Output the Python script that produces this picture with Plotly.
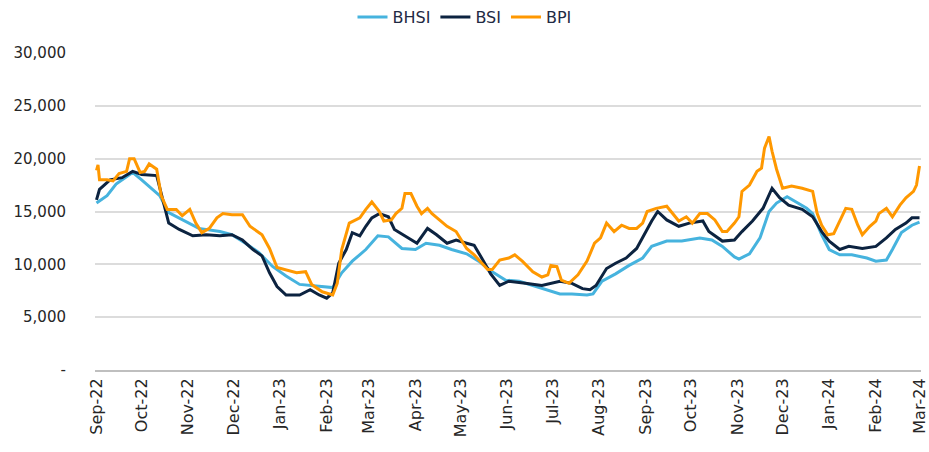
import plotly.graph_objects as go

# ---- data ----
bpi_dates = ["2022-09-01","2022-09-02","2022-09-03","2022-09-08","2022-09-12","2022-09-16","2022-09-21","2022-09-23","2022-09-26","2022-09-30",
             "2022-10-03","2022-10-06","2022-10-11","2022-10-14","2022-10-18","2022-10-24","2022-10-28","2022-11-02","2022-11-06","2022-11-10",
             "2022-11-15","2022-11-20","2022-11-24","2022-11-30","2022-12-07","2022-12-12","2022-12-20","2022-12-25","2022-12-30","2023-01-05",
             "2023-01-12","2023-01-18","2023-01-22","2023-01-29","2023-02-05","2023-02-08","2023-02-11","2023-02-16","2023-02-23","2023-02-27",
             "2023-03-03","2023-03-08","2023-03-11","2023-03-16","2023-03-19","2023-03-23","2023-03-25","2023-03-29","2023-04-02","2023-04-05",
             "2023-04-09","2023-04-12","2023-04-17","2023-04-22","2023-04-28","2023-05-02","2023-05-05","2023-05-10","2023-05-15","2023-05-19",
             "2023-05-22","2023-05-27","2023-06-02","2023-06-06","2023-06-11","2023-06-18","2023-06-24","2023-06-28","2023-06-30","2023-07-04",
             "2023-07-07","2023-07-12","2023-07-18","2023-07-24","2023-07-29","2023-08-02","2023-08-06","2023-08-11","2023-08-16","2023-08-21",
             "2023-08-26","2023-08-30","2023-09-02","2023-09-08","2023-09-15","2023-09-19","2023-09-23","2023-09-28","2023-10-02","2023-10-07",
             "2023-10-12","2023-10-17","2023-10-22","2023-10-25","2023-10-30","2023-11-02","2023-11-04","2023-11-09","2023-11-14","2023-11-17",
             "2023-11-19","2023-11-22","2023-11-24","2023-11-27","2023-12-01","2023-12-07","2023-12-14","2023-12-21","2023-12-24","2023-12-27",
             "2023-12-31","2024-01-04","2024-01-08","2024-01-12","2024-01-16","2024-01-20","2024-01-23","2024-01-28","2024-02-01","2024-02-03",
             "2024-02-08","2024-02-12","2024-02-17","2024-02-21","2024-02-26","2024-02-28","2024-03-01"]
bpi = [18900,19400,18000,18000,17900,18600,18800,20000,20000,18700,
       18800,19500,19000,16500,15200,15200,14600,15200,13900,13000,
       13400,14400,14800,14700,14700,13600,12800,11500,9700,9500,
       9200,9300,8100,7400,7100,8200,11400,13900,14400,15200,
       15900,15000,14100,14200,14800,15300,16700,16700,15500,14800,
       15300,14800,14200,13600,13100,12200,11500,10900,10100,9500,
       9500,10400,10600,10900,10300,9300,8800,9000,9900,9800,
       8500,8200,9000,10300,12000,12500,13900,13100,13700,13400,
       13400,13900,15000,15300,15500,14800,14100,14500,13900,14800,
       14800,14200,13100,13100,13900,14500,16900,17500,18800,19100,
       21000,22100,20700,19000,17200,17400,17200,16900,14800,13700,
       12800,12900,14100,15300,15200,13700,12800,13600,14100,14800,
       15300,14500,15600,16300,16900,17500,19300]

bsi_dates = ["2022-09-01","2022-09-03","2022-09-10","2022-09-18","2022-09-25","2022-10-01","2022-10-11","2022-10-15","2022-10-19","2022-10-26",
             "2022-11-04","2022-11-13","2022-11-22","2022-11-30","2022-12-07","2022-12-14","2022-12-20","2022-12-25","2022-12-30","2023-01-05",
             "2023-01-14","2023-01-21","2023-01-27","2023-02-01","2023-02-05","2023-02-09","2023-02-14","2023-02-18","2023-02-23","2023-02-27",
             "2023-03-03","2023-03-08","2023-03-14","2023-03-18","2023-03-26","2023-04-02","2023-04-09","2023-04-15","2023-04-22","2023-04-28",
             "2023-05-05","2023-05-10","2023-05-15","2023-05-21","2023-05-27","2023-06-02","2023-06-13","2023-06-24","2023-07-06","2023-07-14",
             "2023-07-21","2023-07-26","2023-07-30","2023-08-06","2023-08-12","2023-08-19","2023-08-26","2023-09-01","2023-09-05","2023-09-09",
             "2023-09-15","2023-09-23","2023-09-30","2023-10-09","2023-10-13","2023-10-22","2023-10-30","2023-11-04","2023-11-11","2023-11-18",
             "2023-11-24","2023-11-29","2023-12-05","2023-12-14","2023-12-21","2023-12-27","2024-01-01","2024-01-08","2024-01-14","2024-01-23",
             "2024-02-01","2024-02-08","2024-02-14","2024-02-21","2024-02-25","2024-03-01"]
bsi = [16100,17100,18000,18200,18800,18500,18400,16100,13900,13300,
       12700,12800,12700,12800,12300,11400,10800,9200,7900,7100,
       7100,7600,7100,6800,7300,10100,11400,13000,12700,13600,
       14400,14800,14500,13300,12600,12000,13400,12800,12000,12300,
       12000,11800,10600,9100,8000,8400,8200,8000,8400,8200,
       7700,7600,8000,9600,10100,10600,11500,13100,14100,15000,
       14200,13600,13900,14100,13100,12200,12300,13100,14100,15300,
       17200,16300,15600,15200,14500,13100,12200,11400,11700,11500,
       11700,12500,13300,13900,14400,14400]

bhsi_dates = ["2022-09-01","2022-09-08","2022-09-14","2022-09-25","2022-10-01","2022-10-08","2022-10-13","2022-10-19","2022-10-28","2022-11-08",
              "2022-11-22","2022-11-30","2022-12-09","2022-12-18","2022-12-27","2023-01-05","2023-01-14","2023-01-27","2023-02-05","2023-02-11",
              "2023-02-18","2023-02-27","2023-03-07","2023-03-14","2023-03-23","2023-04-01","2023-04-08","2023-04-17","2023-04-25","2023-05-05",
              "2023-05-13","2023-05-22","2023-05-31","2023-06-09","2023-06-18","2023-06-27","2023-07-06","2023-07-14","2023-07-24","2023-07-28",
              "2023-08-03","2023-08-12","2023-08-21","2023-08-30","2023-09-05","2023-09-15","2023-09-25","2023-10-07","2023-10-15","2023-10-22",
              "2023-10-30","2023-11-02","2023-11-09","2023-11-16","2023-11-22","2023-11-27","2023-12-04","2023-12-10","2023-12-17","2023-12-21",
              "2023-12-27","2024-01-01","2024-01-08","2024-01-16","2024-01-26","2024-02-01","2024-02-08","2024-02-12","2024-02-18","2024-02-25",
              "2024-03-01"]
bhsi = [15800,16500,17600,18700,18000,17100,16500,14900,14200,13400,
        13100,12800,12000,11100,9800,8900,8100,7900,7800,9200,
        10300,11400,12700,12600,11500,11400,12000,11800,11400,11000,
        10300,9300,8500,8400,8000,7600,7200,7200,7100,7200,
        8400,9100,9900,10600,11700,12200,12200,12500,12300,11700,
        10700,10500,11000,12500,15000,15800,16400,15900,15300,14800,
        12800,11400,10900,10900,10600,10300,10400,11400,13000,13700,
        14000]

month_ticks = ["2022-09-01","2022-10-01","2022-11-01","2022-12-01","2023-01-01","2023-02-01","2023-03-01",
               "2023-04-01","2023-05-01","2023-06-01","2023-07-01","2023-08-01","2023-09-01","2023-10-01",
               "2023-11-01","2023-12-01","2024-01-01","2024-02-01","2024-03-01"]
month_labels = ["Sep-22","Oct-22","Nov-22","Dec-22","Jan-23","Feb-23","Mar-23","Apr-23","May-23","Jun-23",
                "Jul-23","Aug-23","Sep-23","Oct-23","Nov-23","Dec-23","Jan-24","Feb-24","Mar-24"]
y_ticks = [0, 5000, 10000, 15000, 20000, 25000, 30000]
y_labels = ["-", "5,000", "10,000", "15,000", "20,000", "25,000", "30,000"]

series = [
    ("BHSI", bhsi_dates, bhsi, "#46b3de"),
    ("BSI", bsi_dates, bsi, "#0c2340"),
    ("BPI", bpi_dates, bpi, "#ff9800"),
]

fig = go.Figure()
for name, d, v, c in series:
    fig.add_trace(go.Scatter(x=d, y=v, mode="lines", name=name,
                             line=dict(color=c, width=3)))

fig.update_layout(
    width=929, height=452,
    margin=dict(l=95, r=8, t=53, b=82, autoexpand=False),
    paper_bgcolor="white", plot_bgcolor="white",
    font=dict(family="DejaVu Sans", color="#262626"),
    showlegend=True,
    legend=dict(orientation="h", xref="container", yref="container",
                x=0.5, xanchor="center", y=0.962, yanchor="middle",
                font=dict(size=16, color="#1f2a44"), itemwidth=30),
    xaxis=dict(type="date", range=["2022-08-31", "2024-03-02"],
               tickmode="array", tickvals=month_ticks, ticktext=month_labels,
               tickangle=-90, tickfont=dict(size=16),
               showgrid=False, showline=True, linecolor="#bfbfbf", linewidth=2,
               ticks="", zeroline=False),
    yaxis=dict(range=[0, 30000], tickmode="array", tickvals=y_ticks, ticktext=y_labels,
               tickfont=dict(size=15), showgrid=True, gridcolor="#dcdcdc", gridwidth=1.5,
               zeroline=False, showline=False, ticks="", ticklabelstandoff=28),
)

fig.write_html("out.html", config={"displayModeBar": False},
               post_script="document.body.style.margin='0';document.body.style.overflow='hidden';")
